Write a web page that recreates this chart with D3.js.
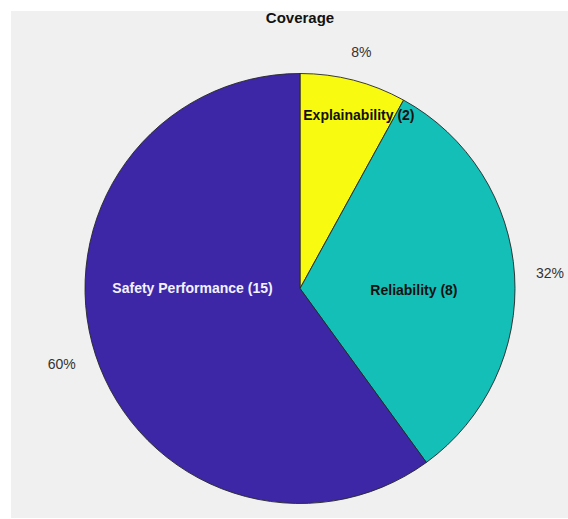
<!DOCTYPE html>
<html>
<head>
<meta charset="utf-8">
<script src="https://cdn.jsdelivr.net/npm/d3@7"></script>
<style>
  body { margin: 0; background: #fff; }
  text { font-family: "Liberation Sans", Arial, sans-serif; }
</style>
</head>
<body>
<svg id="plot" width="568" height="519"></svg>
<script>
const categories = ["Explainability", "Reliability", "Safety Performance"];
const counts = [2, 8, 15];
const colors = ["#f8fa10", "#14bfb7", "#3e27a6"];
const title = "Coverage";

// inner label placement, polar (angle deg clockwise from top, fraction of radius)
const innerPos = [
  { angle: 18.8, frac: 0.85, fill: "#111" },
  { angle: 90.8, frac: 0.53, fill: "#111" },
  { angle: 270, frac: 0.5, fill: "#f2f2ff" }
];

const width = 568;
const height = 519;
const cx = 300;
const cy = 288.5;
const radius = 215;

const svg = d3.select("#plot");

svg.append("rect")
  .attr("x", 11)
  .attr("y", 11)
  .attr("width", width - 11)
  .attr("height", height - 12)
  .attr("fill", "#f0f0f0");

svg.append("text")
  .attr("x", cx)
  .attr("y", 23)
  .attr("text-anchor", "middle")
  .attr("font-size", 15)
  .attr("font-weight", "bold")
  .attr("fill", "#111")
  .text(title);

const data = categories.map((c, i) => ({ name: c, value: counts[i], color: colors[i] }));
const total = d3.sum(counts);

const pie = d3.pie()
  .value(d => d.value)
  .sort(null);

const arcs = pie(data);

const arc = d3.arc()
  .innerRadius(0)
  .outerRadius(radius);

const g = svg.append("g")
  .attr("transform", `translate(${cx}, ${cy})`);

g.selectAll("path")
  .data(arcs)
  .enter().append("path")
  .attr("d", arc)
  .attr("fill", d => d.data.color)
  .attr("stroke", "#262626")
  .attr("stroke-width", 0.9);

// percentage labels outside the pie
const fmt = d3.format(".0%");
g.selectAll("text.pct")
  .data(arcs)
  .enter().append("text")
  .attr("class", "pct")
  .each(function(d) {
    const a = (d.startAngle + d.endAngle) / 2;
    const s = Math.sin(a), c = Math.cos(a);
    const t = d3.select(this)
      .attr("font-size", 14)
      .attr("fill", "#333")
      .attr("text-anchor", "middle")
      .attr("dy", "0.35em")
      .text(fmt(d.data.value / total));
    const bb = this.getBBox();
    const r = radius * 1.1;
    t.attr("x", r * s + s * bb.width / 2)
      .attr("y", -r * c - c * bb.height / 2);
  });

// category labels inside slices
g.selectAll("text.lbl")
  .data(arcs)
  .enter().append("text")
  .attr("class", "lbl")
  .attr("x", (d, i) => innerPos[i].frac * radius * Math.sin(innerPos[i].angle * Math.PI / 180))
  .attr("y", (d, i) => -innerPos[i].frac * radius * Math.cos(innerPos[i].angle * Math.PI / 180))
  .attr("dy", "0.35em")
  .attr("text-anchor", "middle")
  .attr("font-size", 14)
  .attr("font-weight", "bold")
  .attr("fill", (d, i) => innerPos[i].fill)
  .text(d => `${d.data.name} (${d.data.value})`);
</script>
</body>
</html>
